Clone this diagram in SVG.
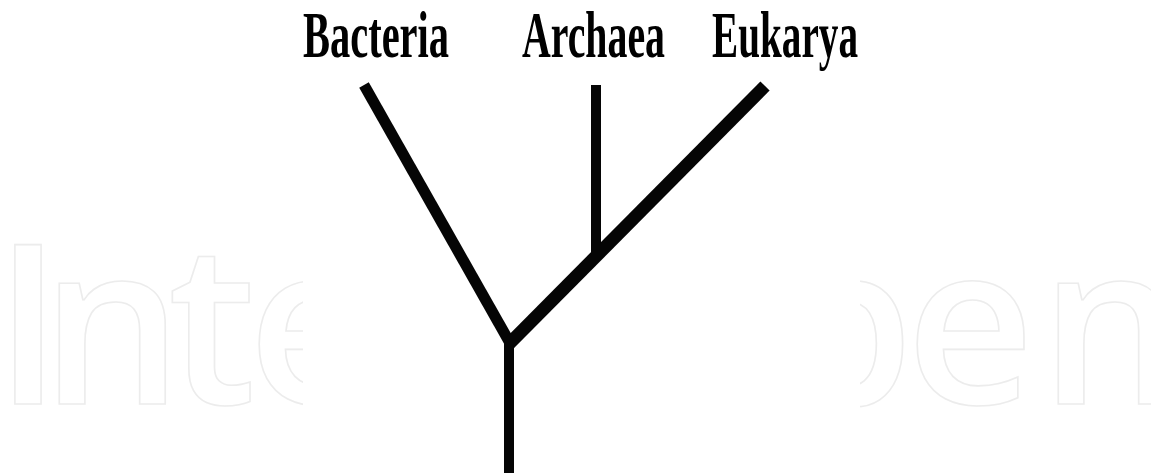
<svg xmlns="http://www.w3.org/2000/svg" width="1151" height="473" viewBox="0 0 1151 473">
<style>
.wm{font-family:"Open Sans","DejaVu Sans",sans-serif;font-weight:600;font-size:223px;fill:#ffffff;stroke:#ececec;stroke-width:1.6}
.lbl{font-family:"Liberation Serif","Times New Roman",serif;font-weight:bold;font-size:66px;fill:#000000}
.br{stroke:#050505;fill:none;stroke-linecap:butt}
</style>
<defs>
<clipPath id="cl"><rect x="0" y="0" width="303" height="473"/></clipPath>
<clipPath id="cr"><rect x="860" y="0" width="291" height="473"/></clipPath>
</defs>
<rect width="1151" height="473" fill="#ffffff"/>
<g id="watermark">
<text class="wm" clip-path="url(#cl)" x="-6 41 168 248" y="404">Inte</text>
<text class="wm" clip-path="url(#cr)" x="775 906 1040" y="404">pen</text>
</g>
<g id="connectors">
<line class="br" x1="364" y1="85" x2="510" y2="343" stroke-width="11"/>
<line class="br" x1="765" y1="86" x2="508" y2="345" stroke-width="13"/>
<line class="br" x1="596" y1="85" x2="596" y2="256" stroke-width="10"/>
<line class="br" x1="509" y1="338" x2="509" y2="473" stroke-width="10"/>
</g>
<g id="node-bacteria"><text class="lbl" x="303" y="57" textLength="146" lengthAdjust="spacingAndGlyphs">Bacteria</text></g>
<g id="node-archaea"><text class="lbl" x="522" y="57" textLength="143" lengthAdjust="spacingAndGlyphs">Archaea</text></g>
<g id="node-eukarya"><text class="lbl" x="712" y="57" textLength="146" lengthAdjust="spacingAndGlyphs">Eukarya</text></g>
</svg>
